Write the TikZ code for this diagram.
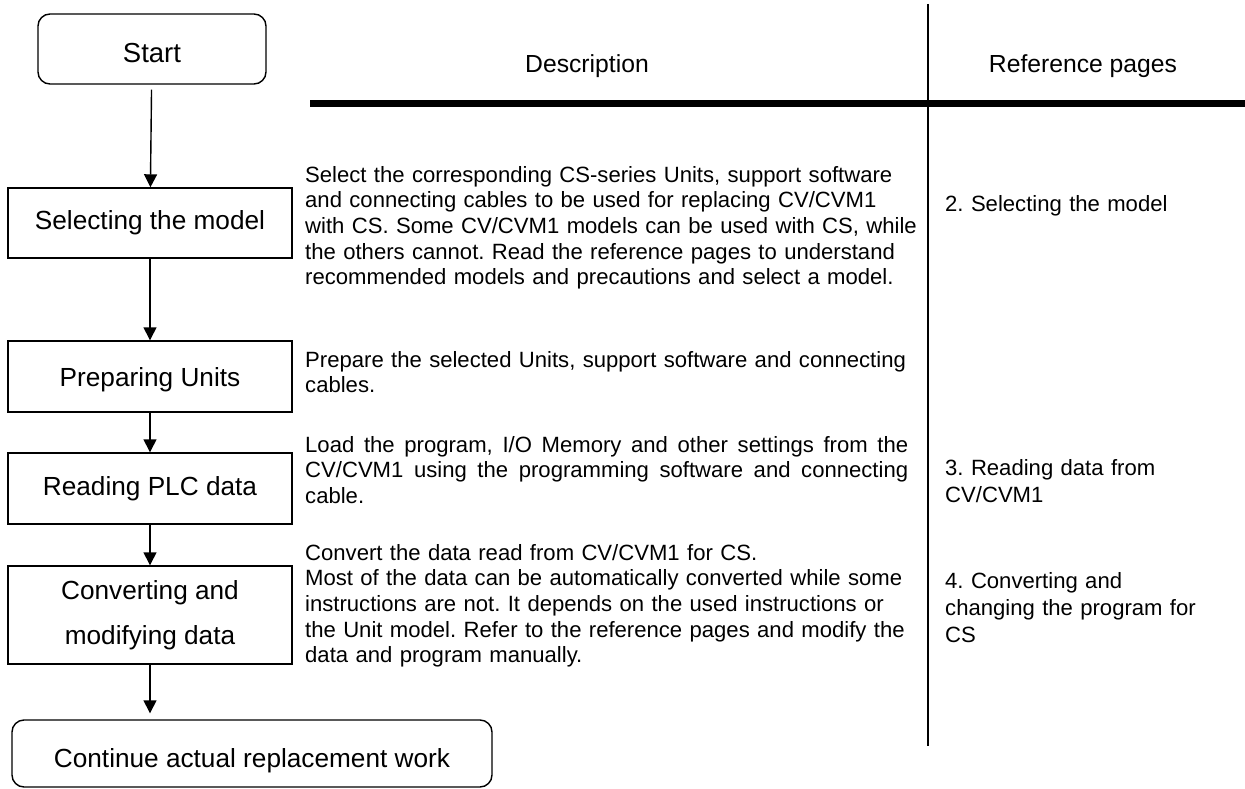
\documentclass[tikz,border=0pt]{standalone}
\usepackage{fontspec}
\setmainfont{Liberation Sans}
\usetikzlibrary{positioning,arrows.meta}
\frenchspacing
\hyphenpenalty=10000
\newcommand{\lowered}[2]{\raisebox{-#1}[\height][\depth]{#2}}

\tikzset{
  stepbox/.style={draw, line width=1.4pt, minimum width=284pt, minimum height=70pt,
    inner sep=0pt, align=center, font=\fontsize{26.2}{45}\selectfont},
  endbox/.style={stepbox, rounded corners=12pt},
  desc/.style={anchor=north west, inner sep=0pt, text width=640pt, align=left,
    font=\fontsize{22.1}{25.6}\selectfont},
  refpage/.style={desc, text width=295pt, font=\fontsize{22.1}{27}\selectfont},
  head/.style={inner sep=0pt, anchor=base, font=\fontsize{24.7}{30}\selectfont},
  flow/.style={-{Triangle[length=13pt,width=13pt]}, line width=1.4pt},
}

\begin{document}
\begin{tikzpicture}[x=1pt, y=-1pt]
    \useasboundingbox (0,0) rectangle (1245,789);

    % Table rules
    \draw[line width=6.5pt] (310,103.5) -- (1245,103.5);
    \draw[line width=1.4pt] (928,4) -- (928,746);

    % Headers
    \node[head] (hdesc) at (587,73) {Description};
    \node[head] (hrefs) at (1083,73) {Reference pages};

    % Flow chart
    \node[endbox, minimum width=228pt, font=\fontsize{27.5}{30}\selectfont] (start) at (152,49) {\lowered{4pt}{Start}};
    \node[stepbox] (select) at (150,223) {Selecting the model};
    \node[stepbox, minimum height=71pt] (prepare) at (150,376.5) {\lowered{3pt}{Preparing Units}};
    \node[stepbox, minimum height=71pt] (read) at (150,488.5) {Reading PLC data};
    \node[stepbox, minimum height=98pt] (convert) at (150,615) {Converting and\\modifying data};
    \node[endbox, minimum width=480pt, minimum height=67pt] (cont) at (252,753.5) {\lowered{7pt}{Continue actual replacement work}};

    \draw[flow, shorten <=5pt] (start) -- (select);
    \draw[flow] (select) -- (prepare);
    \draw[flow] (prepare) -- (read);
    \draw[flow] (read) -- (convert);
    \draw[flow, shorten >=6pt] (convert.south) -- (convert.south |- cont.north);

    % Descriptions
    \node[desc] (dselect) at (305,166) {Select the corresponding CS-series Units, support software\\
        and connecting cables to be used for replacing CV/CVM1\\
        with CS. Some CV/CVM1 models can be used with CS, while\\
        the others cannot. Read the reference pages to understand\\
        recommended models and precautions and select a model.};
    \node[desc] (dprepare) at (305,351) {Prepare the selected Units, support software and connecting\\
        cables.};
    \node[desc, text width=603pt, align=justify] (dread) at (305,436) {Load the program, I/O Memory and other settings from the\linebreak
        CV/CVM1 using the programming software and connecting\linebreak
        cable.};
    \node[desc] (dconvert) at (305,544) {Convert the data read from CV/CVM1 for CS.\\
        Most of the data can be automatically converted while some\\
        instructions are not. It depends on the used instructions or\\
        the Unit model. Refer to the reference pages and modify the\\
        data and program manually.};

    % Reference pages
    \node[refpage] (rselect) at (945,195) {2. Selecting the model};
    \node[refpage] (rread) at (945,459) {3. Reading data from\\CV/CVM1};
    \node[refpage] (rconvert) at (945,572) {4. Converting and\\changing the program for\\CS};
\end{tikzpicture}
\end{document}
